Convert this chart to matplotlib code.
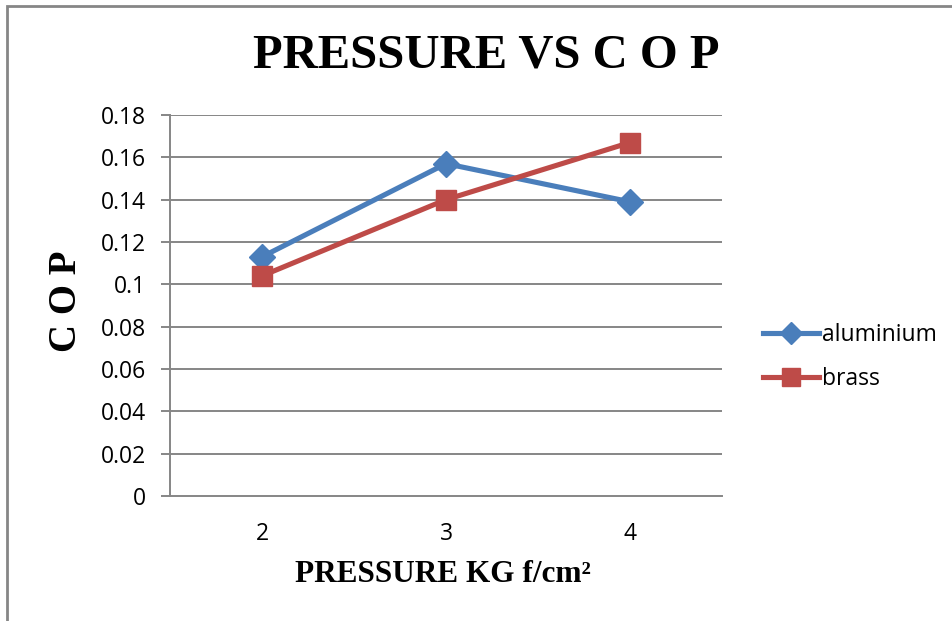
import matplotlib
matplotlib.use("Agg")
import matplotlib.pyplot as plt
from matplotlib.patches import Rectangle

pressure = [2, 3, 4]
tick_labels = ["2", "3", "4"]
aluminium = [0.113, 0.157, 0.139]
brass = [0.104, 0.140, 0.167]
yticks = [0, 0.02, 0.04, 0.06, 0.08, 0.1, 0.12, 0.14, 0.16, 0.18]
ytick_labels = ["0", "0.02", "0.04", "0.06", "0.08", "0.1", "0.12", "0.14", "0.16", "0.18"]

fig = plt.figure(figsize=(9.52, 6.21), dpi=100)
W, H = 952, 621
# outer chart border
fig.patches.append(Rectangle((7 / W, -0.1), 1.2, (H - 6) / H + 0.1, transform=fig.transFigure,
                             fill=False, edgecolor="#868686", linewidth=2))

ax = fig.add_axes([170 / W, 1 - 496 / H, (722 - 170) / W, (496 - 115) / H])
grid_c = "#868686"
for y in yticks[1:]:
    ax.axhline(y, color=grid_c, linewidth=1.4, zorder=1)

blue = "#4A7EBB"
red = "#BE4B48"
ax.plot(pressure, aluminium, color=blue, linewidth=3.7, marker="D", markersize=13,
        label="aluminium", zorder=3)
ax.plot(pressure, brass, color=red, linewidth=3.7, marker="s", markersize=14.5,
        label="brass", zorder=3)

ax.set_xlim(1.5, 4.5)
ax.set_ylim(0, 0.18)
ax.set_xticks(pressure)
ax.set_xticklabels(tick_labels)
ax.set_yticks(yticks)
ax.set_yticklabels(ytick_labels)

for s in ["top", "right"]:
    ax.spines[s].set_visible(False)
for s in ["left", "bottom"]:
    ax.spines[s].set_color(grid_c)
    ax.spines[s].set_linewidth(1.4)

ax.tick_params(axis="y", length=6.5, width=1.4, color=grid_c, pad=11)
ax.tick_params(axis="x", length=0, pad=19)
for lab in ax.get_xticklabels() + ax.get_yticklabels():
    lab.set_fontfamily("Open Sans")
    lab.set_fontsize(16.5)

serif = "Liberation Serif"
fig.text(486 / W, 1 - 56 / H, "PRESSURE VS C O P", ha="center", va="center",
         fontfamily=serif, fontweight="bold", fontsize=35)
fig.text(443 / W, 1 - 574 / H, "PRESSURE KG f/cm²", ha="center", va="center",
         fontfamily=serif, fontweight="bold", fontsize=22.5)
fig.text(67 / W, 1 - 301 / H, "C O P", ha="center", va="center", rotation=90,
         fontfamily=serif, fontweight="bold", fontsize=28)

leg = ax.legend(loc="center left", bbox_to_anchor=(742 / W, 1 - 357 / H),
                bbox_transform=fig.transFigure, frameon=False,
                prop={"family": "Open Sans", "size": 16.5}, handlelength=2.45,
                handletextpad=0.15, labelspacing=0.9, markerscale=0.85)

fig.savefig("out.png", dpi=100)
